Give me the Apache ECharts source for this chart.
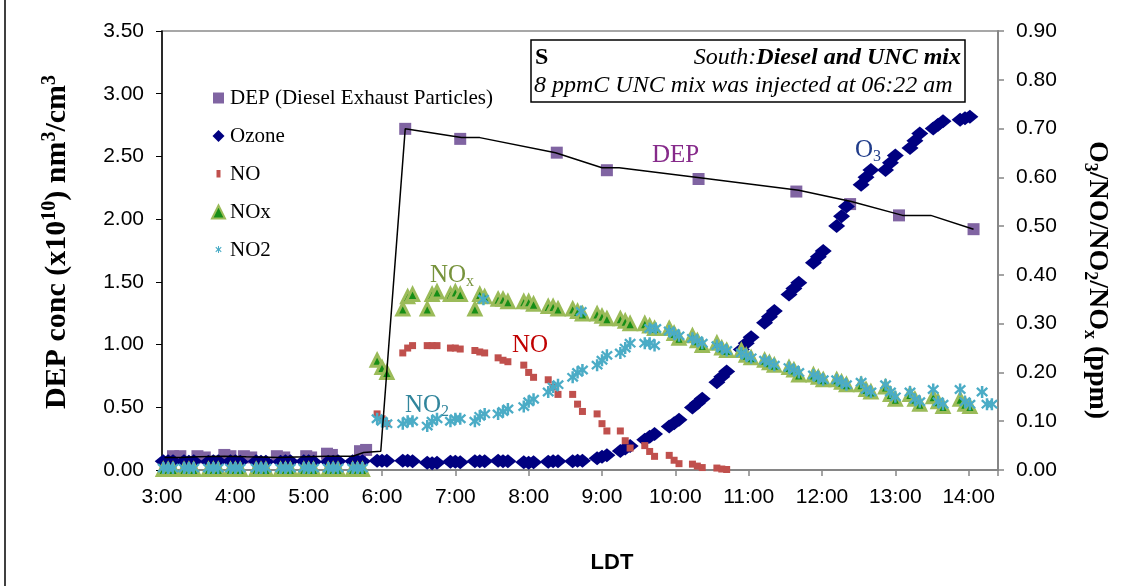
<!DOCTYPE html>
<html><head><meta charset="utf-8">
<script src="https://cdn.jsdelivr.net/npm/echarts@6/dist/echarts.min.js"></script>
<style>html,body{margin:0;padding:0;background:#fff}#c{width:1123px;height:586px}</style>
</head><body><div id="c"></div>
<script>
// ---------- data (x in minutes after midnight, LDT) ----------
const xTickLabels = ['3:00','4:00','5:00','6:00','7:00','8:00','9:00','10:00','11:00','12:00','13:00','14:00'];
const leftTickLabels = ['0.00','0.50','1.00','1.50','2.00','2.50','3.00','3.50'];
const rightTickLabels = ['0.00','0.10','0.20','0.30','0.40','0.50','0.60','0.70','0.80','0.90'];

// gas analyser sample times (3 readings per ~20 min cycle)
const gasTimes = [
  181,185,189, 198,202,206, 218,222,226, 236,240,244, 257,261,265, 277,281,285,
  296,300,304, 316,320,324, 336,340,344, 356,360,364, 377,381,385, 397,401,405,
  416,420,424, 436,440,444, 455,459,463, 476,480,484, 496,500,504, 516,520,524,
  536,540,544, 555,559,563, 575,579,583, 595,599,603, 614,618,622, 634,638,642,
  654,658,662, 673,677,681, 693,697,701, 713,717,721, 732,736,740, 752,756,760,
  772,776,780, 792,796,800, 811,815,819, 833,837,841, 851,855,859
];
// ppm (right axis)
const ozone = [
  0.018,0.018,0.018, 0.018,0.017,0.018, 0.017,0.018,0.018, 0.018,0.018,0.017,
  0.018,0.017,0.017, 0.017,0.018,0.018, 0.018,0.018,0.017, 0.017,0.017,0.018,
  0.018,0.018,0.018, 0.019,0.019,0.019, 0.019,0.019,0.018, 0.015,0.014,0.015,
  0.017,0.017,0.016, 0.018,0.018,0.018, 0.019,0.018,0.018, 0.016,0.015,0.016,
  0.017,0.018,0.018, 0.018,0.019,0.019, 0.024,0.027,0.030, 0.039,0.044,0.049,
  0.062,0.068,0.074, 0.089,0.096,0.103, 0.128,0.137,0.146, 0.180,0.191,0.202,
  0.247,0.260,0.272, 0.302,0.314,0.326, 0.360,0.372,0.384, 0.425,0.437,0.449,
  0.500,0.520,0.540, 0.585,0.600,0.615, 0.615,0.630,0.645, 0.660,0.675,0.690,
  0.700,0.708,0.715, 0.718,0.721,0.724
];
const no = [
  0.001,0.001,0.001, 0.001,0.001,0.001, 0.001,0.001,0.001, 0.001,0.001,0.001,
  0.001,0.001,0.001, 0.001,0.001,0.001, 0.001,0.001,0.001, 0.001,0.002,0.004,
  0.001,0.001,0.001, 0.115,0.105,0.095, 0.240,0.250,0.255, 0.255,0.255,0.255,
  0.250,0.250,0.248, 0.245,0.242,0.240, 0.230,0.225,0.222, 0.215,0.200,0.190,
  0.185,0.170,0.155, 0.155,0.135,0.120, 0.115,0.095,0.080, 0.080,0.060,0.045,
  0.050,0.038,0.028, 0.030,0.020,0.013, 0.012,0.008,0.005, 0.004,0.002,0.001
];
const nox = [
  0.001,0.001,0.001, 0.001,0.001,0.001, 0.001,0.001,0.001, 0.001,0.001,0.001,
  0.001,0.001,0.001, 0.001,0.001,0.001, 0.001,0.001,0.001, 0.001,0.001,0.001,
  0.001,0.001,0.001, 0.225,0.210,0.200, 0.330,0.355,0.360, 0.330,0.360,0.365,
  0.360,0.365,0.360, 0.330,0.360,0.355, 0.350,0.350,0.345, 0.345,0.345,0.340,
  0.335,0.335,0.330, 0.330,0.325,0.320, 0.320,0.315,0.310, 0.310,0.305,0.300,
  0.300,0.295,0.290, 0.290,0.280,0.270, 0.275,0.265,0.255, 0.260,0.250,0.245,
  0.245,0.235,0.230, 0.225,0.220,0.215, 0.210,0.205,0.195, 0.195,0.190,0.185,
  0.185,0.180,0.175, 0.175,0.165,0.160, 0.170,0.155,0.145, 0.155,0.145,0.135,
  0.150,0.140,0.130, 0.145,0.135,0.130
];
const no2 = [
  0.004,0.004,0.004, 0.004,0.004,0.004, 0.004,0.004,0.004, 0.004,0.004,0.004,
  0.004,0.004,0.004, 0.004,0.004,0.004, 0.004,0.004,0.004, 0.004,0.004,0.004,
  0.004,0.004,0.004, 0.105,0.100,0.095, 0.095,0.100,0.100, 0.090,0.100,0.105,
  0.100,0.105,0.105, 0.100,0.110,0.115, 0.115,0.120,0.125, 0.130,0.140,0.145,
  0.160,0.170,0.175, 0.190,0.200,0.205, 0.215,0.225,0.235, 0.240,0.250,0.260,
  0.260,0.260,0.255, 0.285,0.280,0.275, 0.270,0.265,0.260, 0.255,0.250,0.245,
  0.240,0.235,0.230, 0.225,0.220,0.215, 0.210,0.205,0.200, 0.195,0.190,0.185,
  0.185,0.180,0.175, 0.180,0.165,0.160, 0.175,0.160,0.150, 0.160,0.145,0.140,
  0.165,0.140,0.135, 0.165,0.140,0.135, 0.160,0.135,0.135
];
const no2ExtraTimes = [443, 523, 579, 584];
const no2ExtraValues = [0.350, 0.325, 0.290, 0.290];

// DEP (x10^10 nm3/cm3, left axis)
const depTimes = [189,195,209,215,231,236,247,253,274,280,298,302,315,319,342,347,
                  379,424,503,544,619,699,743,783,844];
const depValues = [0.11,0.11,0.11,0.10,0.12,0.11,0.11,0.10,0.11,0.10,0.11,0.10,0.13,0.12,0.15,0.16,
                   2.72,2.64,2.53,2.39,2.32,2.22,2.12,2.03,1.92];
const depLineTimes = [182,195,210,231,249,276,297,315,336,345,359,379,425,440,502,540,554,620,701,744,786,809,844];
const depLineValues = [0.10,0.10,0.105,0.11,0.105,0.10,0.105,0.11,0.11,0.14,0.15,2.72,2.65,2.65,2.53,2.41,2.41,2.33,2.23,2.14,2.03,2.03,1.92];

// ---------- build ----------
const pairs = (ts, vs) => vs.map((v, i) => [ts[i], v]);
const SERIF = 'Liberation Serif';
const SANS = 'Liberation Sans';
const asterisk = 'path://M4,0 H6 V3.4 L8.5,0.9 L9.8,2.3 L6.9,5 L9.8,7.7 L8.5,9.1 L6,6.6 V10 H4 V6.6 L1.5,9.1 L0.2,7.7 L3.1,5 L0.2,2.3 L1.5,0.9 L4,3.4 Z';

const chart = echarts.init(document.getElementById('c'), null, {renderer: 'canvas'});

function txt(x, y, text, rich) {
  return {
    type: 'text', x: x, y: y, z: 100,
    style: {text: text, rich: rich, align: 'left', verticalAlign: 'middle',
            textAlign: 'left', textVerticalAlign: 'middle'}
  };
}
const subRich = (size, color, bold) => {
  const w = bold ? 'bold' : 'normal', ss = Math.round(size * 0.65);
  return {
    a: {fontFamily: SERIF, fontSize: size, fontWeight: w, lineHeight: size + 4, verticalAlign: 'middle', fill: color},
    s: {fontFamily: SERIF, fontSize: ss, fontWeight: w, lineHeight: ss, verticalAlign: 'bottom', fill: color},
    u: {fontFamily: SERIF, fontSize: ss, fontWeight: w, lineHeight: ss, verticalAlign: 'top', fill: color}
  };
};

const option = {
  animation: false,
  backgroundColor: '#fff',
  grid: {left: 162, right: 125, top: 31, bottom: 116, show: true, borderColor: '#8a8a8a', borderWidth: 1.5, backgroundColor: 'transparent'},
  legend: {
    orient: 'vertical', left: 206, top: 82, itemGap: 16, itemWidth: 13, itemHeight: 13,
    textStyle: {fontFamily: SERIF, fontSize: 21, color: '#000', lineHeight: 22},
    data: [
      {name: 'DEP (Diesel Exhaust Particles)', icon: 'path://M0,0 M13,13 M1,1 H12 V12 H1 Z'},
      {name: 'Ozone', icon: 'path://M0,0 M13,13 M6.5,0.5 L12.5,6.5 L6.5,12.5 L0.5,6.5 Z'},
      {name: 'NO', icon: 'path://M0,0 M13,13 M4.5,2.5 H8.5 V10 H4.5 Z'},
      {name: 'NOx', icon: 'triangle'},
      {name: 'NO2', icon: 'path://M0,0 M13,13 M6,2.5 H7 V5 L8.9,3.2 L9.6,4 L7.7,6 L9.6,8 L8.9,8.8 L7,7 V9.5 H6 V7 L4.1,8.8 L3.4,8 L5.3,6 L3.4,4 L4.1,3.2 L6,5 Z'}
    ]
  },
  xAxis: {
    type: 'value', min: 180, max: 864, interval: 60,
    axisLine: {lineStyle: {color: '#868686', width: 2}},
    axisTick: {length: 6, lineStyle: {color: '#868686', width: 1.5}},
    splitLine: {show: false},
    axisLabel: {
      color: '#000', fontFamily: SANS, fontSize: 21, margin: 17,
      formatter: v => { const i = (v - 180) / 60; return Number.isInteger(i) && xTickLabels[i] ? xTickLabels[i] : ''; }
    }
  },
  yAxis: [
    {
      type: 'value', min: 0, max: 3.5, interval: 0.5, position: 'left',
      axisLine: {show: true, lineStyle: {color: '#000', width: 1.5}},
      axisTick: {show: true, length: 6, lineStyle: {color: '#000'}},
      splitLine: {show: false},
      axisLabel: {color: '#000', fontFamily: SANS, fontSize: 21, margin: 18,
        formatter: v => leftTickLabels[Math.round(v / 0.5)] || ''}
    },
    {
      type: 'value', min: 0, max: 0.9, interval: 0.1, position: 'right',
      axisLine: {show: true, lineStyle: {color: '#868686', width: 2}},
      axisTick: {show: true, length: 6, lineStyle: {color: '#868686', width: 1.5}},
      splitLine: {show: false},
      axisLabel: {color: '#000', fontFamily: SANS, fontSize: 21, margin: 18,
        formatter: v => rightTickLabels[Math.round(v / 0.1)] || ''}
    }
  ],
  series: [
    {name: 'DEP (Diesel Exhaust Particles)', type: 'scatter', yAxisIndex: 0, symbol: 'rect', symbolSize: 12,
     itemStyle: {color: '#8064A2', opacity: 1}, data: pairs(depTimes, depValues)},
    {name: 'Ozone', type: 'scatter', yAxisIndex: 1, symbol: 'diamond', symbolSize: [17, 14],
     itemStyle: {color: '#000080', opacity: 1}, data: pairs(gasTimes, ozone)},
    {name: 'NO', type: 'scatter', yAxisIndex: 1, symbol: 'rect', symbolSize: 7,
     itemStyle: {color: '#C0504D', opacity: 1}, data: pairs(gasTimes, no)},
    {name: 'NOx', type: 'scatter', yAxisIndex: 1, symbol: 'triangle', symbolSize: 12,
     itemStyle: {color: '#178E17', borderColor: '#9BBB59', borderWidth: 3, opacity: 1}, data: pairs(gasTimes, nox)},
    {name: 'NO2', type: 'scatter', yAxisIndex: 1, symbol: asterisk, symbolSize: 12,
     itemStyle: {color: '#4BACC6', opacity: 1},
     data: pairs(gasTimes, no2).concat(pairs(no2ExtraTimes, no2ExtraValues))},
    {name: 'DEP trend', type: 'line', yAxisIndex: 0, showSymbol: false, symbol: 'none',
     lineStyle: {color: '#000', width: 1.5}, data: pairs(depLineTimes, depLineValues), z: 5}
  ],
  graphic: [
    {type: 'line', shape: {x1: 5, y1: 0, x2: 5, y2: 586}, style: {stroke: '#000', lineWidth: 1.5}},
    {type: 'rect', shape: {x: 531, y: 40, width: 434, height: 62}, style: {fill: '#fff', stroke: '#000', lineWidth: 1.5}, z: 99},
    {type: 'text', x: 535, y: 58, z: 100, style: {text: 'S', fill: '#000', font: 'bold 24px "Liberation Serif"',
      align: 'left', verticalAlign: 'middle', textAlign: 'left', textVerticalAlign: 'middle'}},
    {type: 'text', x: 961, y: 58, z: 100, style: {
      text: '{i|South:}{bi|Diesel and UNC mix}', align: 'right', verticalAlign: 'middle', textAlign: 'right', textVerticalAlign: 'middle',
      rich: {i: {fontFamily: SERIF, fontSize: 24, fontStyle: 'italic', fill: '#000'},
             bi: {fontFamily: SERIF, fontSize: 24, fontStyle: 'italic', fontWeight: 'bold', fill: '#000'}}}},
    {type: 'text', x: 534, y: 86, z: 100, style: {
      text: '8 ppmC UNC mix was injected at 06:22 am', fill: '#000', font: 'italic 24px "Liberation Serif"',
      align: 'left', verticalAlign: 'middle', textAlign: 'left', textVerticalAlign: 'middle'}},
    // series annotations
    {type: 'text', x: 652, y: 155, z: 100, style: {text: 'DEP', fill: '#862A8A', font: '25px "Liberation Serif"', align: 'left', verticalAlign: 'middle', textAlign: 'left', textVerticalAlign: 'middle'}},
    txt(855, 150, '{a|O}{s|3}', subRich(25, '#203C8A')),
    txt(430, 275, '{a|NO}{s|x}', subRich(25, '#77933C')),
    txt(512, 345, '{a|NO}', subRich(25, '#C00000')),
    txt(405, 405, '{a|NO}{s|2}', subRich(25, '#31859C')),
    // axis titles
    {type: 'text', x: 57, y: 242, rotation: Math.PI / 2, z: 100, style: {
      text: '{a|DEP conc (x10}{u|10}{a|) nm}{u|3}{a|/cm}{u|3}', align: 'center', verticalAlign: 'middle', textAlign: 'center', textVerticalAlign: 'middle',
      rich: subRich(30, '#000', true)}},
    {type: 'text', x: 1097, y: 280, rotation: -Math.PI / 2, z: 100, style: {
      text: '{a|O}{s|3}{a|/NO/NO}{s|2}{a|/NO}{s|x}{a| (ppm)}', align: 'center', verticalAlign: 'middle', textAlign: 'center', textVerticalAlign: 'middle',
      rich: subRich(28, '#000', true)}},
    {type: 'text', x: 612, y: 563, z: 100, style: {text: 'LDT', fill: '#000', font: 'bold 22px "Liberation Sans"', align: 'center', verticalAlign: 'middle', textAlign: 'center', textVerticalAlign: 'middle'}}
  ]
};
chart.setOption(option);
</script>
</body></html>
